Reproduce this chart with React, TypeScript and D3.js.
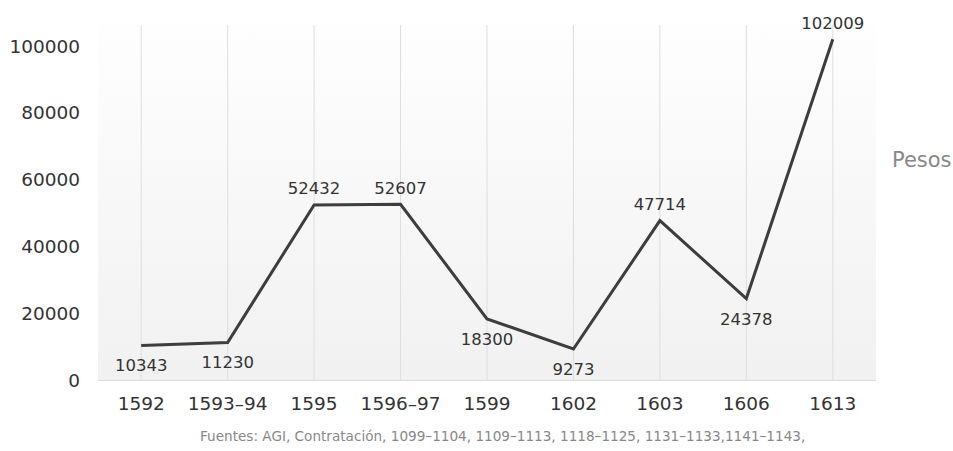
import React, { useEffect, useRef } from 'react';
import * as d3 from 'd3';

const categories = ['1592', '1593–94', '1595', '1596–97', '1599', '1602', '1603', '1606', '1613'];
const values = [10343, 11230, 52432, 52607, 18300, 9273, 47714, 24378, 102009];
const yTicks = [0, 20000, 40000, 60000, 80000, 100000];
const unitLabel = 'Pesos';
const sourceNote = 'Fuentes: AGI, Contratación, 1099–1104, 1109–1113, 1118–1125, 1131–1133,1141–1143,';

const W = 953;
const H = 451;
const FONT = '"DejaVu Sans", Verdana, sans-serif';

const App = () => {
    const ref = useRef<SVGSVGElement>(null);

    useEffect(() => {
        const svg = d3.select(ref.current);
        svg.selectAll('*').remove();

        const left = 98, right = 876, top = 25, bottom = 380;

        const x = d3.scaleBand<string>().domain(categories).range([left, right]);
        const y = d3.scaleLinear().domain([0, 100000]).range([bottom, 46]);
        const cx = (c: string) => (x(c) as number) + x.bandwidth() / 2;

        const grad = svg.append('defs').append('linearGradient')
            .attr('id', 'bg').attr('x1', 0).attr('y1', 0).attr('x2', 0).attr('y2', 1);
        grad.append('stop').attr('offset', '0%').attr('stop-color', '#fefefe');
        grad.append('stop').attr('offset', '100%').attr('stop-color', '#f1f1f1');

        svg.append('rect')
            .attr('x', left).attr('y', top)
            .attr('width', right - left).attr('height', bottom - top)
            .attr('fill', 'url(#bg)');

        // vertical grid at each category
        svg.append('g')
            .selectAll('line')
            .data(categories)
            .enter()
            .append('line')
            .attr('x1', d => cx(d)).attr('x2', d => cx(d))
            .attr('y1', top).attr('y2', bottom)
            .attr('stroke', '#dedede').attr('stroke-width', 1);

        svg.append('line')
            .attr('x1', left).attr('x2', right)
            .attr('y1', bottom + 0.5).attr('y2', bottom + 0.5)
            .attr('stroke', '#dcdcdc').attr('stroke-width', 1);

        // y tick labels
        svg.append('g')
            .selectAll('text')
            .data(yTicks)
            .enter()
            .append('text')
            .attr('x', 80)
            .attr('y', d => y(d))
            .attr('dy', '0.36em')
            .attr('text-anchor', 'end')
            .style('font-family', FONT)
            .style('font-size', '18.5px')
            .style('fill', '#333')
            .text(d => d);

        // x tick labels
        svg.append('g')
            .selectAll('text')
            .data(categories)
            .enter()
            .append('text')
            .attr('x', d => cx(d))
            .attr('y', 403)
            .attr('dy', '0.36em')
            .attr('text-anchor', 'middle')
            .style('font-family', FONT)
            .style('font-size', '18.5px')
            .style('fill', '#333')
            .text(d => d);

        const pts = categories.map((c, i) => ({ c, v: values[i] }));

        const line = d3.line<{ c: string; v: number }>()
            .x(d => cx(d.c))
            .y(d => y(d.v));

        svg.append('path')
            .datum(pts)
            .attr('d', line)
            .attr('fill', 'none')
            .attr('stroke', '#3d3d3d')
            .attr('stroke-width', 3)
            .attr('stroke-linejoin', 'miter');

        // value labels
        svg.append('g')
            .selectAll('text')
            .data(pts)
            .enter()
            .append('text')
            .attr('x', d => cx(d.c))
            .attr('y', d => d.v > 40000 ? y(d.v) - 16.5 : y(d.v) + 20)
            .attr('dy', '0.36em')
            .attr('text-anchor', 'middle')
            .style('font-family', FONT)
            .style('font-size', '16.5px')
            .style('fill', '#333')
            .text(d => d.v);

        svg.append('text')
            .attr('x', 892)
            .attr('y', 159)
            .attr('dy', '0.36em')
            .style('font-family', FONT)
            .style('font-size', '21px')
            .style('fill', '#888')
            .text(unitLabel);

        svg.append('text')
            .attr('x', 200)
            .attr('y', 436)
            .attr('dy', '0.36em')
            .style('font-family', FONT)
            .style('font-size', '13.6px')
            .style('fill', '#888')
            .text(sourceNote);
    }, []);

    return (
        <svg ref={ref} width={W} height={H}
            style={{ position: 'absolute', left: 0, top: 0, background: '#fff' }}></svg>
    );
};

export default App;
